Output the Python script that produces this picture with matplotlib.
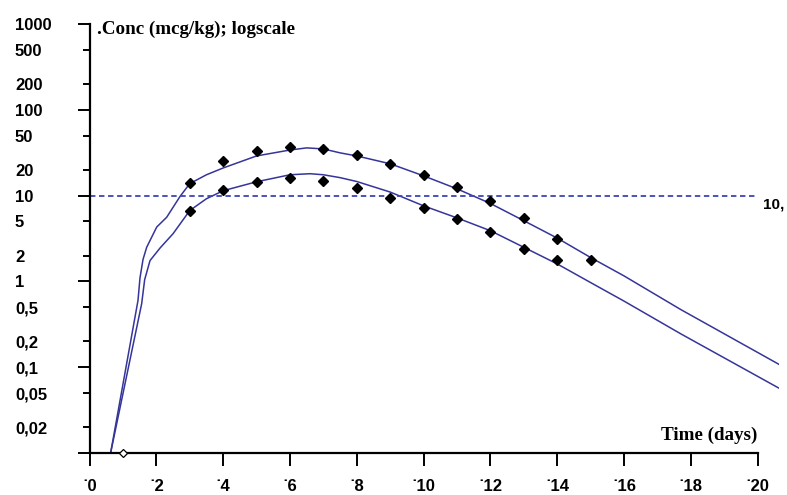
import matplotlib
matplotlib.use("Agg")
import matplotlib.pyplot as plt

# fitted curves (day, conc)
upper_t = [0.63, 1.45, 1.51, 1.6, 1.71, 2.01, 2.31, 2.71, 3.0, 3.5, 4.0, 5.0, 6.0, 6.5, 7.0,
           7.5, 8.0, 9.0, 10.0, 11.0, 12.0, 13.0, 14.0, 15.0, 16.0, 17.7, 20.64]
upper_c = [0.01, 0.6, 1.1, 1.8, 2.5, 4.3, 5.6, 9.8, 13.8, 17.5, 21, 29, 34, 36, 35,
           31.5, 29, 23.5, 17, 12, 8.1, 5.1, 3.2, 1.9, 1.16, 0.47, 0.108]
lower_t = [0.63, 1.56, 1.65, 1.81, 2.11, 2.5, 3.0, 3.5, 4.0, 5.0, 6.0, 6.6, 7.0, 7.5,
           8.0, 9.0, 10.0, 11.0, 12.0, 13.0, 14.0, 15.0, 16.0, 17.7, 20.64]
lower_c = [0.01, 0.55, 1.05, 1.75, 2.45, 3.6, 6.7, 9.2, 11.4, 14.5, 17.5, 18, 17.5, 16.2,
           14.6, 11, 7.6, 5.5, 3.9, 2.5, 1.6, 0.97, 0.59, 0.245, 0.057]

# observed points
obs_upper_t = [3, 4, 5, 6, 7, 8, 9, 10, 11, 12, 13, 14, 15]
obs_upper_c = [14.2, 25.5, 33, 37, 35, 30, 23.5, 17.5, 12.7, 8.7, 5.5, 3.1, 1.8]
obs_lower_t = [3, 4, 5, 6, 7, 8, 9, 10, 11, 12, 13, 14]
obs_lower_c = [6.7, 11.7, 14.5, 16.2, 15, 12.4, 9.5, 7.2, 5.4, 3.8, 2.4, 1.8]
dose_t = [1]
dose_c = [0.01]

threshold = 10

major_y = [1000, 100, 10, 1, 0.1, 0.01]
major_lbl = ["1000", "100", "10", "1", "0,1", ""]
minor_y = [500, 200, 50, 20, 5, 2, 0.5, 0.2, 0.05, 0.02]
minor_lbl = ["500", "200", "50", "20", "5", "2", "0,5", "0,2", "0,05", "0,02"]
x_ticks = list(range(0, 21, 2))
x_lbl = ["\u02d9" + str(v) for v in x_ticks]

sans = ["Liberation Sans", "DejaVu Sans"]
serif = ["Liberation Serif", "DejaVu Serif"]
line_col = "#35359a"
dash_col = "#3c46b4"

fig = plt.figure(figsize=(7.87, 4.95), dpi=100)
ax = fig.add_axes([0.1138, 0.0848, 0.876, 0.8667])

ax.plot(upper_t, upper_c, color=line_col, lw=1.1)
ax.plot(lower_t, lower_c, color=line_col, lw=1.1)
ax.hlines(threshold, 0, 20, colors=dash_col, lw=1.3, linestyles=(0, (3, 2)))
ax.plot(obs_upper_t, obs_upper_c, "D", color="black", ms=5, zorder=5)
ax.plot(obs_lower_t, obs_lower_c, "D", color="black", ms=5, zorder=5)
ax.plot(dose_t, dose_c, "D", mfc="white", mec="black", mew=0.9, ms=3.8,
        clip_on=False, zorder=6)

ax.set_yscale("log")
ax.set_ylim(0.01, 1000)
ax.set_xlim(0, 20.64)

ax.set_yticks(major_y, labels=major_lbl)
ax.set_yticks(minor_y, labels=minor_lbl, minor=True)
ax.tick_params(axis="y", which="major", length=8.6, width=1.4, pad=45.1)
ax.tick_params(axis="y", which="minor", length=5.0, width=1.4, pad=48.7)
for lab in ax.get_yticklabels(which="both"):
    lab.set_ha("left")
    lab.set_family(sans)
    lab.set_fontweight("bold")
    lab.set_fontsize(12)

ax.set_xticks(x_ticks, labels=x_lbl)
ax.xaxis.set_minor_locator(matplotlib.ticker.NullLocator())
ax.tick_params(axis="x", length=9.4, width=1.4, pad=9)
for lab in ax.get_xticklabels():
    lab.set_family(sans)
    lab.set_fontweight("bold")
    lab.set_fontsize(12)

for s in ["top", "right"]:
    ax.spines[s].set_visible(False)
ax.spines["left"].set_linewidth(1.6)
ax.spines["bottom"].set_linewidth(1.6)
ax.spines["bottom"].set_bounds(0, 20)

fig.text(97 / 787, 1 - 29 / 495, ".Conc (mcg/kg); logscale", family=serif,
         fontweight="bold", fontsize=13.7, va="center", ha="left")
fig.text(757 / 787, 1 - 435 / 495, "Time (days)", family=serif,
         fontweight="bold", fontsize=13.7, va="center", ha="right")
ax.text(20.16, 7.86, "10,", family=sans, fontweight="bold", fontsize=11,
        va="center", ha="left", clip_on=False)

fig.savefig("out.png", dpi=100)
